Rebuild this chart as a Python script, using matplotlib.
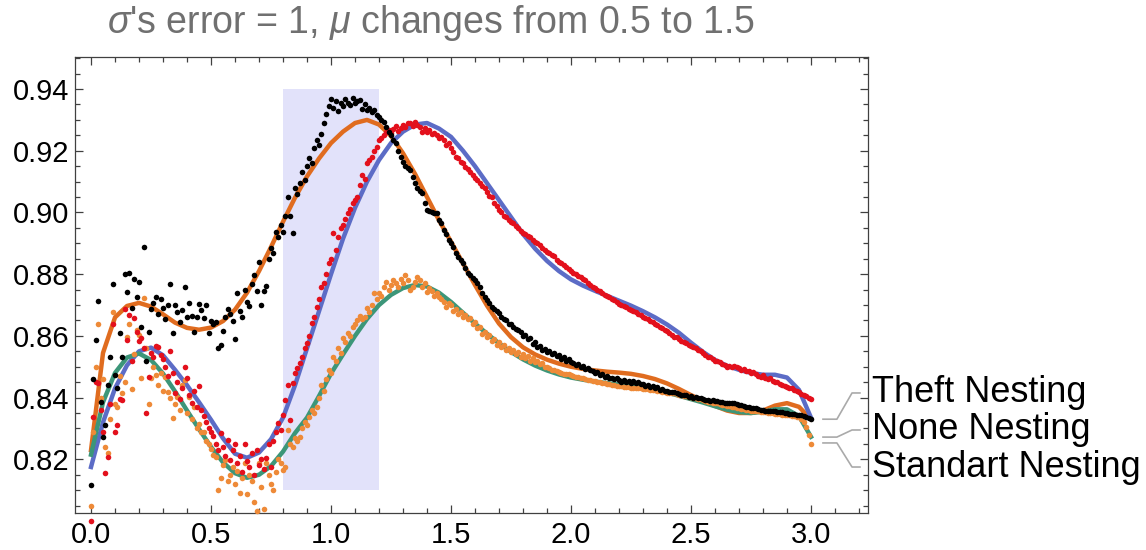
import matplotlib.pyplot as plt
import numpy as np
from matplotlib.patches import Rectangle
from matplotlib.ticker import MultipleLocator, FormatStrFormatter

# x grids of the measured points and of the fitted curves
x_pts = np.round(np.arange(301) * 0.01, 2)
x_fit = np.round(np.arange(61) * 0.05, 2)

# measured points (values x 1e-4)
theft_pts = np.array([
    8117, 8460, 8586, 8714, 8387, 8273, 8311, 8440, 8532, 8768,
    8473, 8430, 8610, 8532, 8800, 8743, 8803, 8690, 8786, 8727,
    8774, 8628, 8887, 8520, 8612, 8688, 8707, 8725, 8672, 8718,
    8692, 8655, 8700, 8767, 8608, 8700, 8678, 8645, 8684, 8759,
    8660, 8707, 8664, 8611, 8660, 8703, 8684, 8659, 8700, 8608,
    8649, 8640, 8646, 8560, 8570, 8617, 8660, 8688, 8672, 8649,
    8591, 8740, 8680, 8660, 8750, 8710, 8697, 8768, 8797, 8745,
    8838, 8700, 8746, 8761, 8849, 8884, 8870, 8937, 8920, 8959,
    8937, 8990, 9050, 8990, 8934, 9079, 9060, 9095, 9130, 9105,
    9150, 9175, 9160, 9210, 9235, 9220, 9255, 9290, 9320, 9345,
    9367, 9340, 9360, 9330, 9356, 9345, 9367, 9355, 9348, 9370,
    9354, 9362, 9364, 9337, 9350, 9332, 9340, 9326, 9332, 9315,
    9310, 9300, 9294, 9278, 9262, 9250, 9235, 9224, 9200, 9180,
    9165, 9150, 9145, 9137, 9116, 9095, 9078, 9070, 9062, 9030,
    9008, 9005, 9002, 8999, 8997, 8975, 8965, 8943, 8930, 8910,
    8900, 8889, 8870, 8856, 8845, 8835, 8820, 8805, 8797, 8788,
    8780, 8770, 8759, 8740, 8727, 8715, 8705, 8695, 8688, 8680,
    8673, 8660, 8655, 8650, 8640, 8638, 8628, 8622, 8618, 8613,
    8600, 8603, 8590, 8594, 8575, 8580, 8565, 8568, 8555, 8558,
    8548, 8550, 8540, 8544, 8535, 8538, 8525, 8530, 8520, 8524,
    8516, 8512, 8507, 8509, 8500, 8503, 8494, 8497, 8489, 8486,
    8480, 8484, 8473, 8476, 8468, 8470, 8462, 8465, 8459, 8462,
    8457, 8452, 8456, 8450, 8455, 8448, 8453, 8446, 8449, 8443,
    8443, 8438, 8442, 8434, 8437, 8430, 8433, 8426, 8428, 8421,
    8420, 8419, 8418, 8419, 8414, 8413, 8410, 8408, 8407, 8403,
    8404, 8400, 8401, 8398, 8398, 8395, 8393, 8392, 8390, 8391,
    8388, 8389, 8386, 8385, 8384, 8383, 8382, 8382, 8381, 8378,
    8377, 8375, 8374, 8371, 8370, 8367, 8366, 8365, 8363, 8361,
    8360, 8358, 8358, 8356, 8355, 8355, 8354, 8354, 8352, 8350,
    8349, 8348, 8347, 8346, 8344, 8343, 8342, 8340, 8337, 8334,
    8330]) / 1e4

none_pts = np.array([
    8000, 8338, 8451, 8446, 8360, 8289, 8156, 8208, 8380, 8640,
    8289, 8311, 8397, 8392, 8687, 8586, 8667, 8520, 8657, 8613,
    8582, 8592, 8560, 8349, 8467, 8545, 8530, 8567, 8565, 8538,
    8524, 8500, 8470, 8552, 8480, 8414, 8450, 8397, 8430, 8500,
    8462, 8408, 8381, 8420, 8370, 8438, 8359, 8340, 8322, 8300,
    8289, 8275, 8251, 8230, 8285, 8240, 8210, 8264, 8197, 8230,
    8251, 8187, 8210, 8160, 8251, 8195, 8174, 8220, 8150, 8230,
    8181, 8200, 8170, 8203, 8250, 8176, 8260, 8290, 8318, 8295,
    8343, 8392, 8440, 8327, 8446, 8480, 8495, 8511, 8530, 8560,
    8576, 8600, 8641, 8660, 8694, 8720, 8760, 8770, 8800, 8835,
    8850, 8932, 8880, 8920, 8950, 8960, 8980, 8997, 9010, 9030,
    9040, 9051, 9090, 9121, 9110, 9159, 9170, 9180, 9200, 9213,
    9235, 9240, 9250, 9262, 9267, 9258, 9270, 9280, 9265, 9273,
    9285, 9276, 9290, 9289, 9280, 9294, 9285, 9278, 9262, 9275,
    9262, 9267, 9255, 9258, 9250, 9240, 9245, 9235, 9220, 9225,
    9208, 9195, 9180, 9175, 9165, 9160, 9148, 9140, 9130, 9120,
    9112, 9105, 9095, 9085, 9080, 9067, 9055, 9050, 9030, 9020,
    9008, 9000, 8990, 8985, 8975, 8970, 8965, 8955, 8950, 8940,
    8935, 8930, 8925, 8922, 8912, 8905, 8900, 8895, 8885, 8880,
    8873, 8868, 8862, 8858, 8845, 8840, 8835, 8830, 8824, 8818,
    8810, 8805, 8800, 8795, 8790, 8783, 8780, 8770, 8765, 8759,
    8755, 8748, 8745, 8740, 8732, 8730, 8725, 8718, 8715, 8710,
    8702, 8700, 8697, 8694, 8688, 8684, 8680, 8677, 8670, 8667,
    8662, 8657, 8655, 8648, 8644, 8640, 8636, 8630, 8625, 8620,
    8615, 8610, 8603, 8597, 8595, 8590, 8585, 8580, 8578, 8570,
    8567, 8565, 8560, 8555, 8550, 8545, 8538, 8532, 8530, 8525,
    8520, 8517, 8515, 8510, 8506, 8500, 8503, 8498, 8502, 8500,
    8497, 8490, 8493, 8486, 8485, 8480, 8482, 8477, 8470, 8467,
    8473, 8465, 8460, 8462, 8455, 8450, 8452, 8445, 8440, 8438,
    8435, 8430, 8432, 8424, 8420, 8418, 8412, 8410, 8405, 8400,
    8397]) / 1e4

standart_pts = np.array([
    8048, 8290, 8500, 8640, 8400, 8460, 8240, 8219, 8330, 8678,
    8380, 8370, 8470, 8414, 8451, 8597, 8640, 8427, 8540, 8619,
    8603, 8462, 8722, 8560, 8379, 8462, 8500, 8472, 8440, 8480,
    8420, 8467, 8419, 8400, 8333, 8380, 8403, 8360, 8440, 8457,
    8350, 8403, 8330, 8370, 8300, 8316, 8290, 8289, 8260, 8251,
    8235, 8215, 8208, 8100, 8138, 8180, 8197, 8130, 8149, 8176,
    8120, 8163, 8090, 8138, 8187, 8087, 8150, 8130, 8060, 8033,
    8187, 8110, 8038, 8187, 8150, 8120, 8100, 8160, 8200, 8187,
    8165, 8176, 8295, 8250, 8241, 8270, 8260, 8273, 8300, 8320,
    8310, 8338, 8360, 8350, 8370, 8400, 8440, 8420, 8460, 8490,
    8480, 8532, 8520, 8560, 8543, 8592, 8580, 8608, 8600, 8630,
    8640, 8651, 8665, 8655, 8662, 8690, 8678, 8700, 8738, 8720,
    8738, 8730, 8760, 8776, 8750, 8765, 8780, 8770, 8760, 8785,
    8770, 8797, 8780, 8750, 8759, 8775, 8790, 8781, 8760, 8770,
    8743, 8755, 8745, 8730, 8738, 8725, 8720, 8710, 8694, 8705,
    8700, 8682, 8688, 8670, 8678, 8660, 8668, 8655, 8657, 8640,
    8645, 8625, 8628, 8605, 8612, 8596, 8602, 8585, 8590, 8570,
    8580, 8563, 8570, 8555, 8562, 8548, 8554, 8542, 8548, 8532,
    8540, 8528, 8535, 8520, 8527, 8514, 8520, 8508, 8512, 8500,
    8498, 8495, 8490, 8489, 8486, 8482, 8480, 8478, 8476, 8475,
    8473, 8470, 8468, 8466, 8465, 8462, 8460, 8458, 8456, 8455,
    8453, 8452, 8451, 8448, 8447, 8445, 8443, 8442, 8440, 8438,
    8437, 8436, 8435, 8434, 8433, 8432, 8431, 8431, 8430, 8430,
    8429, 8428, 8427, 8425, 8424, 8423, 8421, 8420, 8418, 8417,
    8416, 8415, 8414, 8414, 8411, 8410, 8408, 8406, 8405, 8403,
    8402, 8400, 8398, 8397, 8395, 8393, 8390, 8387, 8386, 8384,
    8382, 8381, 8379, 8377, 8376, 8374, 8372, 8371, 8369, 8367,
    8365, 8364, 8362, 8361, 8360, 8358, 8357, 8356, 8355, 8354,
    8353, 8352, 8351, 8350, 8349, 8348, 8347, 8346, 8345, 8344,
    8343, 8342, 8341, 8340, 8338, 8336, 8330, 8322, 8306, 8280,
    8251]) / 1e4

# fitted curves (values x 1e-4)
theft_fit = np.array([
    8230, 8545, 8660, 8697, 8707, 8695, 8670, 8643, 8626, 8620,
    8627, 8648, 8685, 8740, 8810, 8888, 8970, 9048, 9117, 9175,
    9225, 9262, 9290, 9300, 9285, 9248, 9192, 9125, 9050, 8975,
    8905, 8835, 8765, 8698, 8640, 8596, 8563, 8540, 8523, 8510,
    8500, 8493, 8488, 8484, 8481, 8477, 8470, 8460, 8446, 8428,
    8408, 8390, 8373, 8358, 8350, 8350, 8358, 8374, 8382, 8370,
    8330]) / 1e4

none_fit = np.array([
    8175, 8320, 8430, 8505, 8550, 8562, 8537, 8490, 8440, 8385,
    8328, 8268, 8218, 8205, 8222, 8265, 8335, 8440, 8560, 8680,
    8800, 8915, 9015, 9100, 9170, 9225, 9262, 9285, 9290, 9272,
    9245, 9200, 9150, 9095, 9040, 8985, 8930, 8883, 8843, 8810,
    8783, 8763, 8746, 8730, 8714, 8698, 8680, 8660, 8637, 8610,
    8578, 8548, 8522, 8503, 8490, 8480, 8474, 8474, 8465, 8425,
    8335]) / 1e4

standart_fit = np.array([
    8215, 8385, 8480, 8530, 8543, 8522, 8478, 8420, 8358, 8298,
    8240, 8190, 8155, 8140, 8150, 8178, 8225, 8285, 8335, 8405,
    8478, 8540, 8600, 8655, 8700, 8733, 8755, 8765, 8760, 8740,
    8710, 8675, 8640, 8607, 8576, 8548, 8524, 8504, 8488, 8475,
    8465, 8458, 8452, 8447, 8442, 8437, 8432, 8425, 8416, 8406,
    8395, 8384, 8372, 8361, 8353, 8350, 8354, 8362, 8362, 8340,
    8273]) / 1e4

# shaded band of mu values
band_x = (0.8, 1.2)
band_y = (0.81, 0.94)

labels = ["Theft Nesting", "None Nesting", "Standart Nesting"]
label_anchor = [0.8330, 0.8272, 0.8253]
label_y = [0.8415, 0.8295, 0.8175]

plt.rcParams['font.family'] = ['Liberation Sans', 'DejaVu Sans']
plt.rcParams['mathtext.fontset'] = 'custom'
plt.rcParams['mathtext.rm'] = 'Liberation Sans'
plt.rcParams['mathtext.it'] = 'Liberation Sans:italic'


def plot_nesting(output_path="out.png"):
    fig = plt.figure(figsize=(11.46, 5.5), dpi=100)
    ax = fig.add_axes([0.0654, 0.0673, 0.692, 0.8291])

    ax.add_patch(Rectangle((band_x[0], band_y[0]), band_x[1] - band_x[0],
                           band_y[1] - band_y[0], facecolor='#e2e2fa',
                           edgecolor='none', zorder=0))

    # fitted curves
    ax.plot(x_fit, theft_fit, color='#e06c1f', lw=3.2, zorder=2)
    ax.plot(x_fit, none_fit, color='#5c6cc6', lw=3.2, zorder=2)
    ax.plot(x_fit, standart_fit, color='#3c9679', lw=3.2, zorder=2)

    # measured points on top
    ax.scatter(x_pts, standart_pts, s=16, color='#ee8a38', lw=0, zorder=3, clip_on=False)
    ax.scatter(x_pts, none_pts, s=16, color='#e3101c', lw=0, zorder=3, clip_on=False)
    ax.scatter(x_pts, theft_pts, s=16, color='black', lw=0, zorder=4, clip_on=False)

    ax.set_xlim(-0.067, 3.2375)
    ax.set_ylim(0.8026, 0.9504)

    ax.xaxis.set_major_locator(MultipleLocator(0.5))
    ax.xaxis.set_minor_locator(MultipleLocator(0.1))
    ax.xaxis.set_major_formatter(FormatStrFormatter('%.1f'))
    ax.yaxis.set_major_locator(MultipleLocator(0.02))
    ax.yaxis.set_minor_locator(MultipleLocator(0.005))
    ax.yaxis.set_major_formatter(FormatStrFormatter('%.2f'))

    ax.tick_params(which='both', direction='in', top=True, right=True,
                   color='#404040', width=0.9)
    ax.tick_params(which='major', length=6, labelsize=21)
    ax.tick_params(which='minor', length=3.5)
    ax.tick_params(axis='x', pad=6)
    ax.tick_params(axis='y', pad=4)
    for spine in ax.spines.values():
        spine.set_color('#404040')
        spine.set_linewidth(0.9)

    # labels with leader lines
    for name, y0, y1 in zip(labels, label_anchor, label_y):
        ax.plot([3.05, 3.108, 3.171, 3.204], [y0, y0, y1, y1],
                color='#aaaaaa', lw=1.2, clip_on=False, zorder=1)
        ax.text(3.255, y1, name, fontsize=26, ha='left', va='center',
                clip_on=False)

    fig.text(0.376, 0.958, r"$\sigma$'s error = 1, $\mu$ changes from 0.5 to 1.5",
             ha='center', va='center', fontsize=27, color='#707070')

    fig.savefig(output_path, dpi=100)
    plt.close(fig)
    return output_path


if __name__ == "__main__":
    plot_nesting()
